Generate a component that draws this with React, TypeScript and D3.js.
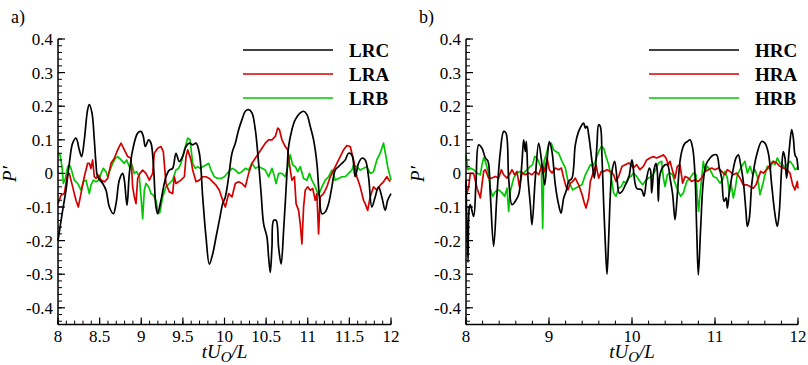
import React from 'react';
import * as d3 from 'd3';

type Pt = [number, number];

// panel a) low-Re probes
const LRC: Pt[] = [
  [8.0, -0.2], [8.056, -0.11], [8.096, -0.05], [8.136, 0.03], [8.176, 0.09], [8.216, 0.105], [8.256, 0.07], [8.284, 0.05],
  [8.316, 0.1], [8.356, 0.19], [8.376, 0.205], [8.408, 0.18], [8.436, 0.1], [8.456, 0.03], [8.476, -0.01], [8.537, -0.03],
  [8.577, -0.05], [8.617, -0.1], [8.665, -0.12], [8.697, -0.09], [8.737, -0.02], [8.777, 0.0], [8.797, -0.02], [8.829, -0.095],
  [8.857, 0.0], [8.897, 0.07], [8.957, 0.12], [8.997, 0.125], [9.025, 0.11], [9.049, 0.08], [9.089, 0.1], [9.117, 0.09],
  [9.145, 0.03], [9.177, -0.1], [9.197, -0.12], [9.237, -0.08], [9.297, -0.01], [9.337, 0.01], [9.377, 0.015], [9.417, 0.06],
  [9.457, 0.035], [9.497, 0.05], [9.538, 0.08], [9.578, 0.09], [9.618, 0.085], [9.658, 0.09], [9.698, 0.06], [9.738, -0.07],
  [9.778, -0.19], [9.818, -0.27], [9.858, -0.24], [9.898, -0.19], [9.938, -0.14], [9.978, -0.09],
  [10.01, -0.07], [10.05, -0.01], [10.09, 0.06], [10.13, 0.09], [10.17, 0.13], [10.21, 0.16], [10.25, 0.185], [10.29, 0.19],
  [10.33, 0.18], [10.37, 0.13], [10.41, 0.03], [10.44, -0.06], [10.47, -0.15], [10.51, -0.19], [10.53, -0.25], [10.55, -0.295],
  [10.57, -0.22], [10.59, -0.14], [10.62, -0.14], [10.65, -0.22], [10.68, -0.27], [10.71, -0.17], [10.75, 0.0], [10.77, 0.08],
  [10.81, 0.13], [10.85, 0.16], [10.91, 0.18], [10.95, 0.185], [10.99, 0.175], [11.03, 0.14], [11.07, 0.1], [11.11, 0.03],
  [11.14, -0.07], [11.17, -0.12], [11.21, -0.115], [11.25, -0.09], [11.29, -0.04], [11.33, 0.01], [11.37, 0.02], [11.41, 0.03],
  [11.45, 0.04], [11.49, 0.06], [11.53, 0.055], [11.57, -0.01], [11.61, 0.03], [11.65, 0.045], [11.69, 0.04], [11.73, -0.01],
  [11.77, -0.1], [11.81, -0.07], [11.85, -0.04], [11.89, -0.07], [11.93, -0.11], [11.96, -0.08], [12.0, -0.06],
];

const LRA: Pt[] = [
  [8.0, -0.09], [8.036, -0.065], [8.076, -0.06], [8.116, 0.0], [8.136, 0.0], [8.176, -0.04], [8.216, -0.08], [8.244, -0.1],
  [8.276, -0.06], [8.316, -0.01], [8.356, 0.03], [8.376, 0.03], [8.396, 0.015], [8.416, 0.04], [8.436, -0.01], [8.456, -0.015],
  [8.488, -0.005], [8.517, -0.02], [8.557, -0.025], [8.597, -0.015], [8.637, 0.03], [8.677, 0.045], [8.717, 0.07], [8.757, 0.09],
  [8.797, 0.07], [8.837, 0.05], [8.877, 0.045], [8.897, -0.04], [8.917, -0.07], [8.937, -0.09], [8.957, -0.015], [8.985, 0.0],
  [9.017, 0.01], [9.057, 0.0], [9.097, -0.02], [9.137, 0.0], [9.157, 0.06], [9.197, 0.075], [9.237, 0.08], [9.265, 0.065],
  [9.297, -0.03], [9.337, -0.055], [9.377, -0.06], [9.397, -0.01], [9.417, -0.03], [9.477, -0.02], [9.518, -0.01], [9.538, 0.05],
  [9.558, 0.07], [9.598, 0.04], [9.618, 0.01], [9.658, -0.025], [9.698, -0.02], [9.738, -0.01], [9.778, -0.01], [9.818, -0.015],
  [9.858, -0.025], [9.898, -0.035], [9.938, -0.05], [9.978, -0.08],
  [10.01, -0.1], [10.05, -0.06], [10.09, -0.07], [10.13, -0.03], [10.17, -0.025], [10.21, -0.03], [10.25, -0.04], [10.29, 0.0],
  [10.33, 0.03], [10.37, 0.045], [10.41, 0.06], [10.45, 0.075], [10.49, 0.09], [10.53, 0.1], [10.57, 0.1], [10.61, 0.11],
  [10.64, 0.135], [10.66, 0.13], [10.69, 0.1], [10.73, 0.08], [10.76, 0.07], [10.79, 0.01], [10.81, -0.02], [10.84, -0.01],
  [10.86, -0.09], [10.89, -0.11], [10.91, -0.15], [10.93, -0.21], [10.95, -0.1], [10.97, -0.05], [11.0, -0.04], [11.03, -0.05],
  [11.06, -0.045], [11.09, -0.08], [11.11, -0.06], [11.13, -0.18], [11.15, -0.07], [11.19, -0.06], [11.23, -0.04], [11.27, -0.01],
  [11.31, 0.01], [11.35, 0.03], [11.39, 0.05], [11.43, 0.07], [11.47, 0.083], [11.51, 0.08], [11.55, 0.04], [11.59, -0.01],
  [11.63, -0.04], [11.67, -0.08], [11.69, -0.09], [11.72, -0.11], [11.75, -0.07], [11.79, -0.04], [11.83, -0.05], [11.87, -0.035],
  [11.91, -0.025], [11.95, -0.01], [11.99, -0.025],
];

const LRB: Pt[] = [
  [8.0, 0.06], [8.024, 0.055], [8.048, 0.02], [8.064, -0.03], [8.088, -0.015], [8.116, 0.02], [8.136, 0.025], [8.156, 0.015],
  [8.196, -0.02], [8.236, -0.03], [8.276, -0.05], [8.304, -0.025], [8.336, -0.02], [8.356, -0.04], [8.376, -0.06], [8.396, -0.035],
  [8.424, -0.02], [8.456, -0.025], [8.488, -0.02], [8.517, 0.0], [8.545, 0.015], [8.577, 0.005], [8.597, -0.01], [8.625, 0.01],
  [8.657, 0.03], [8.689, 0.045], [8.717, 0.05], [8.757, 0.04], [8.797, 0.03], [8.825, 0.04], [8.857, 0.02], [8.889, 0.025],
  [8.917, 0.0], [8.945, 0.005], [8.977, -0.01], [8.997, -0.07], [9.017, -0.135], [9.037, -0.05], [9.057, -0.03], [9.089, -0.04],
  [9.117, -0.06], [9.145, -0.065], [9.177, -0.08], [9.205, -0.12], [9.225, -0.115], [9.257, -0.07], [9.297, -0.04], [9.337, -0.03],
  [9.377, -0.02], [9.417, 0.01], [9.449, 0.015], [9.477, 0.03], [9.518, 0.07], [9.558, 0.105], [9.586, 0.1], [9.618, 0.03],
  [9.65, 0.015], [9.678, 0.02], [9.706, 0.015], [9.738, 0.02], [9.778, 0.025], [9.81, 0.03], [9.838, 0.01], [9.878, -0.01],
  [9.918, -0.015], [9.958, -0.015], [9.998, -0.01],
  [10.05, 0.005], [10.09, 0.015], [10.13, 0.01], [10.17, 0.0], [10.21, 0.005], [10.25, 0.015], [10.29, 0.01], [10.33, 0.03],
  [10.37, 0.015], [10.41, 0.02], [10.45, 0.015], [10.49, 0.01], [10.53, -0.01], [10.57, 0.015], [10.59, 0.0], [10.62, -0.03],
  [10.65, 0.0], [10.69, 0.0], [10.73, -0.01], [10.77, 0.03], [10.79, 0.055], [10.82, 0.025], [10.85, 0.02], [10.88, 0.005],
  [10.91, 0.02], [10.95, -0.015], [10.99, -0.02], [11.02, 0.0], [11.05, -0.02], [11.09, -0.04], [11.13, -0.065], [11.17, -0.04],
  [11.21, -0.02], [11.25, -0.01], [11.29, 0.01], [11.33, -0.02], [11.37, -0.015], [11.41, -0.01], [11.45, -0.01], [11.49, 0.0],
  [11.53, 0.01], [11.55, 0.025], [11.59, 0.02], [11.63, 0.01], [11.67, 0.015], [11.71, 0.02], [11.75, 0.0], [11.79, 0.005],
  [11.83, 0.04], [11.87, 0.06], [11.91, 0.09], [11.94, 0.05], [11.96, 0.02], [11.98, 0.0], [12.0, -0.02],
];

// panel b) high-Re probes
const HRC: Pt[] = [
  [8.0, -0.02], [8.024, -0.265], [8.04, -0.1], [8.052, -0.093], [8.092, -0.128], [8.12, -0.03], [8.153, 0.085], [8.193, 0.075],
  [8.233, 0.046], [8.265, 0.036], [8.293, -0.063], [8.333, -0.217], [8.373, -0.063], [8.414, 0.065], [8.454, 0.125], [8.482, 0.12],
  [8.514, -0.014], [8.554, -0.093], [8.594, -0.083], [8.635, -0.063], [8.675, 0.036], [8.695, 0.1], [8.715, 0.065], [8.727, 0.095],
  [8.747, -0.014], [8.775, -0.093], [8.795, -0.153], [8.835, -0.014], [8.876, 0.09], [8.916, 0.026], [8.948, -0.034], [8.976, 0.036],
  [9.004, 0.095], [9.036, 0.065], [9.076, -0.034], [9.116, -0.093], [9.145, -0.118], [9.177, -0.073], [9.205, -0.054], [9.237, -0.024],
  [9.277, -0.014], [9.317, 0.085], [9.357, 0.125], [9.398, 0.145], [9.418, 0.15], [9.438, 0.135], [9.458, 0.14], [9.478, 0.115],
  [9.518, 0.036], [9.546, -0.014], [9.578, 0.085], [9.598, 0.145], [9.618, 0.14], [9.639, 0.046], [9.659, -0.093], [9.679, -0.212],
  [9.699, -0.3], [9.719, -0.192], [9.739, -0.063], [9.759, 0.006], [9.791, 0.036], [9.819, -0.014], [9.847, -0.059], [9.88, -0.054],
  [9.92, -0.034], [9.96, -0.014], [10.0, 0.04],
  [10.056, -0.044], [10.116, -0.049], [10.145, -0.068], [10.177, -0.014], [10.209, 0.016], [10.225, 0.006], [10.237, -0.058],
  [10.265, 0.011], [10.289, 0.03], [10.305, 0.006], [10.317, -0.083], [10.337, -0.004], [10.378, 0.021], [10.426, 0.026],
  [10.458, -0.014], [10.49, -0.063], [10.518, -0.138], [10.546, -0.063], [10.578, 0.036], [10.61, 0.075], [10.639, 0.09],
  [10.667, 0.095], [10.699, 0.1], [10.731, 0.075], [10.759, -0.004], [10.779, -0.163], [10.799, -0.302], [10.827, -0.163],
  [10.859, -0.024], [10.892, 0.026], [10.94, 0.046], [10.98, 0.055], [11.02, 0.055], [11.052, 0.016], [11.08, -0.014],
  [11.108, -0.083], [11.133, -0.073], [11.149, -0.103], [11.173, -0.054], [11.2, -0.014], [11.253, 0.046], [11.281, 0.055],
  [11.309, 0.026], [11.341, -0.024], [11.373, -0.113], [11.39, -0.158], [11.414, -0.133], [11.442, -0.034], [11.47, 0.016],
  [11.502, 0.055], [11.562, 0.095], [11.602, 0.09], [11.643, 0.06], [11.683, -0.034], [11.723, -0.123], [11.751, -0.158],
  [11.775, -0.113], [11.803, 0.016], [11.823, 0.065], [11.843, 0.046], [11.863, -0.014], [11.896, 0.075], [11.924, 0.13],
  [11.944, 0.105], [11.964, 0.055], [11.984, 0.046], [12.0, 0.01],
];

const HRA: Pt[] = [
  [8.0, -0.024], [8.012, -0.06], [8.032, -0.04], [8.052, 0.0], [8.092, 0.0], [8.133, -0.044], [8.173, -0.073], [8.213, 0.006],
  [8.233, 0.011], [8.273, -0.014], [8.313, -0.014], [8.353, -0.009], [8.394, -0.014], [8.426, 0.011], [8.454, -0.004], [8.494, -0.014],
  [8.534, 0.001], [8.554, 0.011], [8.586, -0.004], [8.614, 0.006], [8.643, -0.039], [8.675, 0.001], [8.715, -0.004], [8.755, 0.001],
  [8.795, -0.004], [8.835, 0.006], [8.876, -0.004], [8.916, 0.026], [8.948, 0.006], [8.976, 0.046], [9.004, 0.011], [9.036, 0.001],
  [9.076, 0.016], [9.116, 0.011], [9.149, 0.016], [9.177, -0.014], [9.205, -0.039], [9.229, -0.049], [9.257, -0.029], [9.285, -0.024],
  [9.317, -0.014], [9.357, -0.034], [9.398, -0.063], [9.426, -0.088], [9.446, -0.103], [9.478, -0.073], [9.498, -0.024], [9.538, 0.006],
  [9.566, 0.026], [9.598, -0.014], [9.631, 0.006], [9.659, 0.006], [9.699, 0.011], [9.739, 0.006], [9.779, -0.004], [9.807, -0.024],
  [9.839, -0.009], [9.88, 0.021], [9.92, 0.026], [9.96, 0.031], [9.988, 0.026],
  [10.016, 0.016], [10.056, 0.026], [10.096, 0.011], [10.137, 0.021], [10.177, 0.04], [10.217, 0.046], [10.257, 0.05], [10.297, 0.046],
  [10.337, 0.05], [10.378, 0.055], [10.41, 0.046], [10.438, 0.026], [10.458, 0.036], [10.49, 0.006], [10.518, -0.014], [10.546, 0.021],
  [10.578, 0.026], [10.61, -0.029], [10.639, -0.009], [10.679, -0.014], [10.719, -0.024], [10.759, -0.019], [10.799, -0.024],
  [10.839, -0.014], [10.88, 0.006], [10.92, 0.011], [10.96, 0.016], [11.0, 0.011], [11.04, 0.016], [11.08, 0.006], [11.12, -0.004],
  [11.149, 0.011], [11.181, 0.006], [11.221, -0.004], [11.261, 0.001], [11.301, -0.014], [11.341, -0.034], [11.382, -0.034],
  [11.422, -0.039], [11.462, -0.044], [11.494, -0.034], [11.522, -0.014], [11.55, 0.006], [11.582, 0.001], [11.622, 0.011],
  [11.663, 0.026], [11.703, 0.036], [11.743, 0.031], [11.783, 0.021], [11.823, 0.016], [11.863, 0.011], [11.904, 0.001],
  [11.936, -0.034], [11.964, -0.049], [11.992, -0.024], [12.0, -0.045],
];

const HRB: Pt[] = [
  [8.0, 0.055], [8.024, 0.011], [8.052, 0.016], [8.092, 0.011], [8.133, 0.001], [8.173, -0.004], [8.193, 0.026], [8.213, 0.046],
  [8.233, 0.036], [8.265, 0.006], [8.293, -0.044], [8.321, -0.068], [8.353, -0.054], [8.394, -0.049], [8.434, -0.058], [8.466, -0.068],
  [8.494, -0.044], [8.514, -0.113], [8.534, -0.054], [8.574, -0.014], [8.614, 0.001], [8.655, 0.006], [8.695, 0.001], [8.735, 0.011],
  [8.775, 0.021], [8.803, 0.026], [8.827, 0.05], [8.855, 0.046], [8.884, 0.03], [8.908, 0.016], [8.924, -0.163], [8.94, 0.036],
  [8.964, 0.055], [8.996, 0.085], [9.028, 0.09], [9.056, 0.07], [9.084, 0.065], [9.116, 0.06], [9.157, 0.036], [9.197, 0.016],
  [9.229, -0.024], [9.257, -0.034], [9.285, -0.049], [9.317, -0.044], [9.357, -0.039], [9.398, -0.034], [9.438, -0.004], [9.47, 0.011],
  [9.498, 0.026], [9.526, 0.021], [9.558, 0.036], [9.598, 0.065], [9.631, 0.08], [9.659, 0.075], [9.687, 0.05], [9.719, 0.026],
  [9.751, -0.014], [9.779, -0.058], [9.807, -0.068], [9.839, -0.044], [9.871, -0.039], [9.9, -0.024], [9.928, -0.029], [9.96, -0.009],
  [9.988, -0.009],
  [10.016, 0.001], [10.056, -0.009], [10.096, -0.024], [10.129, -0.034], [10.157, -0.024], [10.197, -0.014], [10.237, -0.009],
  [10.277, 0.006], [10.317, 0.03], [10.357, 0.036], [10.378, -0.014], [10.398, -0.039], [10.426, -0.004], [10.458, 0.001],
  [10.49, -0.004], [10.518, -0.029], [10.558, -0.054], [10.586, -0.068], [10.618, -0.058], [10.659, -0.024], [10.699, -0.014],
  [10.739, 0.001], [10.771, -0.004], [10.787, -0.073], [10.803, -0.113], [10.819, -0.063], [10.839, -0.014], [10.859, 0.036],
  [10.88, 0.006], [10.908, 0.021], [10.94, 0.011], [10.98, -0.009], [11.02, -0.014], [11.06, -0.029], [11.092, -0.019],
  [11.12, 0.006], [11.149, -0.014], [11.173, -0.058], [11.193, -0.029], [11.221, -0.073], [11.245, -0.044], [11.269, -0.004],
  [11.301, 0.011], [11.333, 0.026], [11.361, 0.036], [11.39, 0.001], [11.422, 0.021], [11.454, -0.004], [11.482, 0.011],
  [11.51, -0.009], [11.542, -0.063], [11.574, -0.034], [11.602, -0.004], [11.631, 0.021], [11.663, 0.011], [11.695, 0.036],
  [11.723, 0.026], [11.751, 0.046], [11.783, 0.03], [11.815, 0.026], [11.843, 0.016], [11.871, 0.026], [11.904, 0.036],
  [11.936, 0.026], [11.964, 0.011], [11.992, 0.016], [12.0, 0.021],
];

const yTickValues = [0.4, 0.3, 0.2, 0.1, 0, -0.1, -0.2, -0.3, -0.4];
const xTicksA = [8, 8.5, 9, 9.5, 10, 10.5, 11, 11.5, 12];
const xTicksB = [8, 9, 10, 11, 12];

const COLORS = ['#000000', '#d40000', '#00c800'];
const FONT = "'Liberation Serif', 'DejaVu Serif', serif";

const yScale = d3.scaleLinear().domain([-0.45, 0.4]).range([324.6, 39]);

type PanelProps = {
  left: number;
  right: number;
  tag: string;
  tagX: number;
  majors: number[];
  minorStep: number;
  series: Pt[][];
  names: string[];
  legendX: number;
};

const Panel = ({ left, right, tag, tagX, majors, minorStep, series, names, legendX }: PanelProps) => {
  const x = d3.scaleLinear().domain([8, 12]).range([left, right]);
  const y = yScale;
  const minorsX = d3.range(0, Math.round(4 / minorStep) + 1).map((i) => 8 + i * minorStep);
  const minorsY = d3.range(0, 43).map((i) => -0.44 + i * 0.02);
  const bottom = y(-0.45);

  const smooth = d3
    .line<Pt>()
    .x((d) => x(d[0]))
    .y((d) => y(d[1]))
    .curve(d3.curveCatmullRom.alpha(0.5));
  const jag = d3
    .line<Pt>()
    .x((d) => x(d[0]))
    .y((d) => y(d[1]));

  const fmtX = (d: number) => (Number.isInteger(d) ? String(d) : d.toFixed(1));
  const fmtY = (d: number) => (d === 0 ? '0' : d.toFixed(1));

  return (
    <g style={{ fontFamily: FONT }}>
      <text x={tagX} y={23} fontSize={18}>{tag}</text>

      {/* green first, black last so it sits on top */}
      {[2, 1, 0].map((i) => (
        <path
          key={i}
          d={(i === 0 ? smooth : jag)(series[i]) || ''}
          fill="none"
          stroke={COLORS[i]}
          strokeWidth={1.7}
          strokeLinejoin="round"
        />
      ))}

      {/* axes */}
      <line x1={left} x2={left} y1={y(0.4)} y2={bottom} stroke="#000" strokeWidth={1.5} />
      <line x1={left} x2={right} y1={bottom} y2={bottom} stroke="#000" strokeWidth={1.5} />

      {minorsY.map((v, i) => (
        <line key={'my' + i} x1={left} x2={left + 4} y1={y(v)} y2={y(v)} stroke="#000" strokeWidth={1} />
      ))}
      {yTickValues.map((v) => (
        <g key={'y' + v}>
          <line x1={left} x2={left + 7} y1={y(v)} y2={y(v)} stroke="#000" strokeWidth={1.2} />
          <text x={left - 5} y={y(v)} dy="0.35em" textAnchor="end" fontSize={17}>{fmtY(v)}</text>
        </g>
      ))}

      {minorsX.map((v, i) => (
        <line key={'mx' + i} x1={x(v)} x2={x(v)} y1={bottom} y2={bottom - 4} stroke="#000" strokeWidth={1} />
      ))}
      {majors.map((v) => (
        <g key={'x' + v}>
          <line x1={x(v)} x2={x(v)} y1={bottom} y2={bottom - 7} stroke="#000" strokeWidth={1.2} />
          <text x={x(v)} y={342} textAnchor="middle" fontSize={17}>{fmtX(v)}</text>
        </g>
      ))}

      <text x={(left + right) / 2} y={358} textAnchor="middle" fontSize={19} fontStyle="italic">
        tU<tspan fontSize={15} dy={4}>O</tspan><tspan dy={-4}>/L</tspan>
      </text>
      <text transform={`translate(${left - 42},174) rotate(-90)`} textAnchor="middle" fontSize={19} fontStyle="italic">
        P′
      </text>

      {names.map((n, i) => (
        <g key={n}>
          <line x1={legendX} x2={legendX + 90} y1={50 + i * 24} y2={50 + i * 24} stroke={COLORS[i]} strokeWidth={1.6} />
          <text x={legendX + 106} y={57 + i * 24} fontSize={19} fontWeight="bold">{n}</text>
        </g>
      ))}
    </g>
  );
};

export default function App() {
  return (
    <svg width={808} height={365} style={{ position: 'absolute', left: 0, top: 0, background: '#fff' }}>
      <rect width={808} height={365} fill="#fff" />
      <Panel left={58} right={391} tag="a)" tagX={11} majors={xTicksA} minorStep={0.1}
        series={[LRC, LRA, LRB]} names={['LRC', 'LRA', 'LRB']} legendX={243} />
      <Panel left={466} right={798} tag="b)" tagX={419} majors={xTicksB} minorStep={0.2}
        series={[HRC, HRA, HRB]} names={['HRC', 'HRA', 'HRB']} legendX={649} />
    </svg>
  );
}
